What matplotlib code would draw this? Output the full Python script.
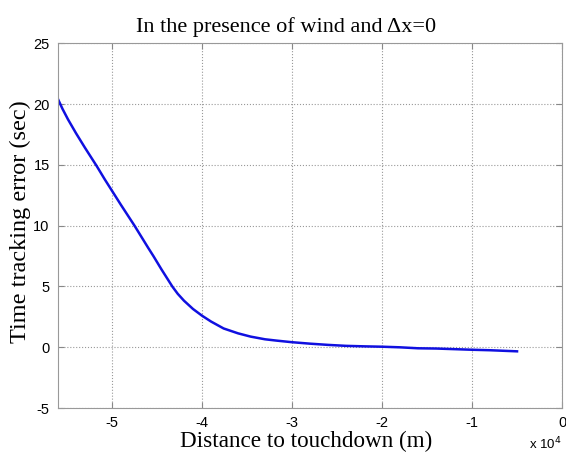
import numpy as np
import matplotlib
matplotlib.use('Agg')
import matplotlib.pyplot as plt

# distance to touchdown (x 1e4 m) and time tracking error (sec)
dist = [-5.6, -5.55, -5.49, -5.4, -5.3, -5.17, -5.08, -4.9, -4.75, -4.6, -4.54,
        -4.45, -4.33, -4.27, -4.2, -4.1, -4.0, -3.9, -3.76, -3.6, -3.46, -3.3,
        -3.17, -3.0, -2.8, -2.6, -2.4, -2.2, -2.0, -1.8, -1.6, -1.4, -1.2,
        -1.0, -0.8, -0.6, -0.5]
err = [20.4, 19.6, 18.75, 17.6, 16.4, 14.9, 13.8, 11.7, 10.0, 8.2, 7.5,
       6.4, 5.0, 4.4, 3.83, 3.15, 2.6, 2.12, 1.55, 1.15, 0.88, 0.66,
       0.55, 0.42, 0.3, 0.2, 0.12, 0.08, 0.05, 0.0, -0.08, -0.1, -0.15,
       -0.2, -0.24, -0.3, -0.33]

xticks = [-5, -4, -3, -2, -1, 0]
yticks = [-5, 0, 5, 10, 15, 20, 25]

serif = {'family': 'Liberation Serif'}
sans = 'Liberation Sans'

fig = plt.figure(figsize=(5.66, 4.55), dpi=100)
ax = fig.add_axes([0.1025, 0.103, 0.8905, 0.802])

x = np.array(dist) * 1e4
ax.plot(x, err, color='#1010e0', lw=1.8)

ax.set_xlim(-5.6e4, 0)
ax.set_ylim(-5, 25)
ax.set_xticks([t * 1e4 for t in xticks])
ax.set_xticklabels([str(t) for t in xticks], fontname=sans, fontsize=10.5)
ax.set_yticks(yticks)
ax.set_yticklabels([str(t) for t in yticks], fontname=sans, fontsize=10.5)

ax.grid(True, ls=':', color='#999999', lw=0.8)
ax.tick_params(direction='in', top=True, right=True, length=4, color='#888888', pad=6)
for s in ax.spines.values():
    s.set_color('#999999')

ax.set_title('In the presence of wind and \u0394x=0', fontsize=16, pad=8, x=0.452, **serif)
ax.set_xlabel('Distance to touchdown (m)', fontsize=16.7, labelpad=0, x=0.492, **serif)
ax.set_ylabel('Time tracking error (sec)', fontsize=17.5, labelpad=2, y=0.51, **serif)
ax.text(0.999, -0.075, 'x 10$^4$', transform=ax.transAxes, fontname=sans,
        fontsize=9.5, ha='right', va='top')

plt.savefig('out.png', dpi=100)
